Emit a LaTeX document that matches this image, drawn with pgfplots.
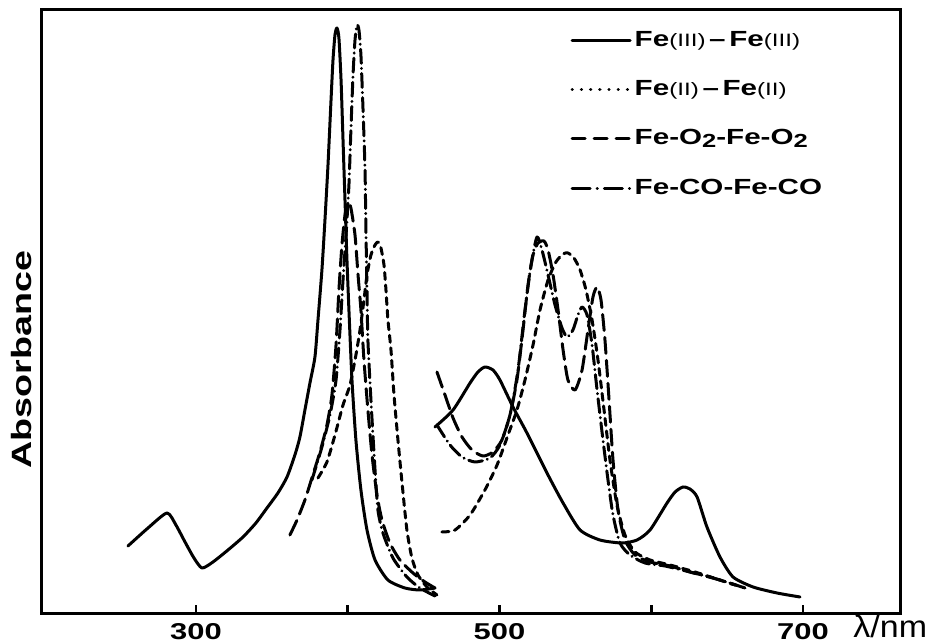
\documentclass[border=0pt]{standalone}
\usepackage{fontspec}
\setmainfont{Liberation Sans}[FakeStretch=1.35]
\newfontfamily\plainsans{Liberation Sans}[FakeStretch=1.1]
\usepackage{pgfplots}
\pgfplotsset{compat=1.18}
\usetikzlibrary{calc}
\newcommand\smallr{\mdseries\fontsize{9}{10}\selectfont}
\newcommand\sub[1]{\raisebox{-0.25ex}{\fontsize{9.5}{10}\selectfont #1}}
\begin{document}
\begin{tikzpicture}
\begin{axis}[
 scale only axis, width=429.5bp, height=301.5bp,
 xmin=197.9, xmax=763.9, ymin=0, ymax=603,
 axis line style={line width=1.5bp},
 xtick={300,400,500,600,700}, xticklabels={300,,500,,700},
 xtick pos=left, ytick=\empty, tick align=inside, major tick length=4bp,
 tick style={line width=1.4bp, black},
 xticklabel style={font=\fontsize{11.5}{13}\selectfont\bfseries, yshift=-1.6bp},
 /pgf/number format/assume math mode=true,
 clip=false,
 legend style={draw=none, fill=none, at={(rel axis cs:0.616,0.97)}, anchor=north west,
   row sep=12.5bp, font=\fontsize{11}{13}\selectfont\bfseries, inner sep=0pt, nodes={inner sep=1.5bp}},
 legend cell align=left,
 legend image code/.code={\draw[#1] (0bp,0bp) -- (29bp,0bp);},
 every axis plot/.append style={line width=1.5bp, black, line cap=round, line join=round},
]
\coordinate (sw) at (rel axis cs:0,0);
\coordinate (ne) at (rel axis cs:1,1);

\addlegendimage{solid}
\addlegendentry{Fe{\smallr(III)}\,--\,Fe{\smallr(III)}}
\addlegendimage{dash pattern=on 0.1bp off 4.5bp, line width=1.6bp}
\addlegendentry{Fe{\smallr(II)}\,--\,Fe{\smallr(II)}}
\addlegendimage{dash pattern=on 6.5bp off 4.5bp}
\addlegendentry{Fe-O\sub{2}-Fe-O\sub{2}}
\addlegendimage{dash pattern=on 9bp off 3.5bp on 0.1bp off 3.5bp}
\addlegendentry{Fe-CO-Fe-CO}

% Fe(III)-Fe(III), UV/Soret region
\addplot[forget plot, smooth, tension=0.4] coordinates {
(255.2,67) (268.4,85) (280.9,100) (286.8,88) (292.8,71) (298.7,55) (304.0,45)
(311.2,51) (321.1,63) (331.0,76) (339.5,90) (346.8,105) (354.0,120) (360.0,136)
(365.2,158) (368.5,176) (371.8,203) (375.1,230) (378.4,256) (380.4,293) (383.0,343)
(385.0,393) (387.0,448) (389.0,513) (390.3,553) (391.6,578) (392.9,585) (394.2,575)
(395.6,533) (396.9,473) (398.2,413) (399.5,353) (400.8,303) (402.8,233) (405.4,173)
(408.7,123) (412.7,83) (418.0,53) (426.5,33) (437.7,25) (447.6,23) (457.5,25)};
% Fe(III)-Fe(III), visible region
\addplot[forget plot, smooth, tension=0.4] coordinates {
(457.5,186) (469.4,203) (480.6,230) (485.8,241) (490.4,246) (495.7,243) (500.3,233)
(508.9,206) (518.1,180) (531.3,140) (541.9,110) (553.1,83) (566.2,73) (580.7,70)
(590.6,73) (599.2,83) (610.4,110) (615.7,121) (620.9,126) (625.5,124) (630.2,116)
(636.7,86) (645.3,56) (653.9,36) (667.1,26) (682.9,20) (698.0,16)};

% Fe(II)-Fe(II)
\addplot[forget plot, smooth, tension=0.4, dash pattern=on 3.5bp off 2.8bp] coordinates {
(380.4,135) (386.3,151) (391.6,178) (396.9,208) (401.5,228) (405.4,258) (408.1,283)
(410.7,313) (412.7,338) (415.3,358) (418.0,368) (419.9,371) (421.9,365) (423.9,348)
(425.2,323) (426.5,293) (428.5,263) (430.5,218) (433.1,173) (435.8,130) (439.0,83)
(442.3,55) (446.3,38) (452.2,26) (458.8,18)};
\addplot[forget plot, smooth, tension=0.4, dash pattern=on 3.5bp off 2.8bp] coordinates {
(462.1,81) (470.7,83) (480.6,98) (490.4,123) (498.4,148) (505.6,178) (511.5,203)
(516.8,233) (522.1,268) (526.7,303) (532.0,333) (537.2,351) (541.9,359) (545.1,360)
(549.1,355) (553.1,343) (557.0,323) (561.0,293) (564.9,253) (568.9,203) (572.8,153)
(577.4,108) (582.7,78) (589.3,61) (599.2,53) (612.4,48) (628.8,41) (645.3,33) (661.8,25)};

% Fe-O2-Fe-O2
\addplot[forget plot, smooth, tension=0.4, dash pattern=on 8bp off 3.5bp] coordinates {
(361.9,78) (366.6,93) (371.8,113) (376.4,135) (381.7,161) (386.3,188) (389.6,218)
(392.3,268) (394.2,323) (396.2,368) (398.2,398) (400.2,411) (402.1,405) (404.8,378)
(406.8,338) (408.7,303) (410.7,253) (413.3,203) (416.0,158) (419.3,118) (422.6,93)
(427.8,70) (434.4,53) (443.0,40) (450.9,31) (457.5,25)};
\addplot[forget plot, smooth, tension=0.4, dash pattern=on 8bp off 3.5bp] coordinates {
(458.8,241) (464.1,218) (469.4,195) (475.3,176) (481.9,163) (489.1,157) (495.7,161)
(501.6,173) (506.9,198) (511.5,233) (515.5,283) (518.8,328) (522.1,358) (525.4,370)
(529.3,372) (532.0,363) (535.3,338) (538.6,303) (541.9,263) (545.1,233) (549.8,223)
(554.4,243) (558.3,283) (561.6,316) (564.3,326) (566.9,313) (569.5,273) (572.2,213)
(574.8,153) (578.1,103) (582.7,73) (589.3,58) (599.2,51) (612.4,47) (625.5,41)
(638.7,36) (655.2,28)};

% Fe-CO-Fe-CO
\addplot[forget plot, smooth, tension=0.4, dash pattern=on 7bp off 2.5bp on 0.1bp off 2.5bp] coordinates {
(376.4,133) (383.0,166) (388.3,198) (392.3,233) (394.9,283) (396.9,333) (398.9,378)
(400.8,428) (402.1,483) (403.5,538) (404.8,573) (406.1,588) (407.4,583) (408.7,558)
(410.1,503) (411.4,443) (412.0,383) (412.7,323) (413.3,273) (415.3,213) (418.0,143)
(419.9,103) (423.2,80) (429.8,55) (439.0,36) (447.6,25) (457.5,17)};
\addplot[forget plot, smooth, tension=0.4, dash pattern=on 7bp off 2.5bp on 0.1bp off 2.5bp] coordinates {
(458.8,188) (467.4,168) (475.3,156) (483.9,151) (493.7,155) (500.3,168) (506.9,198)
(512.2,243) (516.8,303) (520.8,348) (524.7,376) (528.0,363) (532.0,338) (536.6,308)
(541.2,285) (544.5,276) (548.4,283) (551.7,298) (554.4,306) (557.7,298) (561.0,268)
(564.3,223) (568.2,173) (571.5,133) (574.8,98) (579.4,70) (586.0,58) (595.9,50)
(609.1,47) (625.5,41) (645.3,33) (661.8,25)};

\node[rotate=90, font=\fontsize{14}{16}\selectfont\bfseries] at (rel axis cs:-0.023,0.42) {Absorbance};
\node[anchor=east, inner sep=0pt, font=\plainsans\fontsize{15.5}{17}\selectfont] at (rel axis cs:1.032,-0.0216) {λ/nm};
\end{axis}
\pgfresetboundingbox
\path[use as bounding box] ($(sw)+(-20.5bp,-14.5bp)$) rectangle ($(ne)+(16bp,5bp)$);
\end{tikzpicture}
\end{document}
